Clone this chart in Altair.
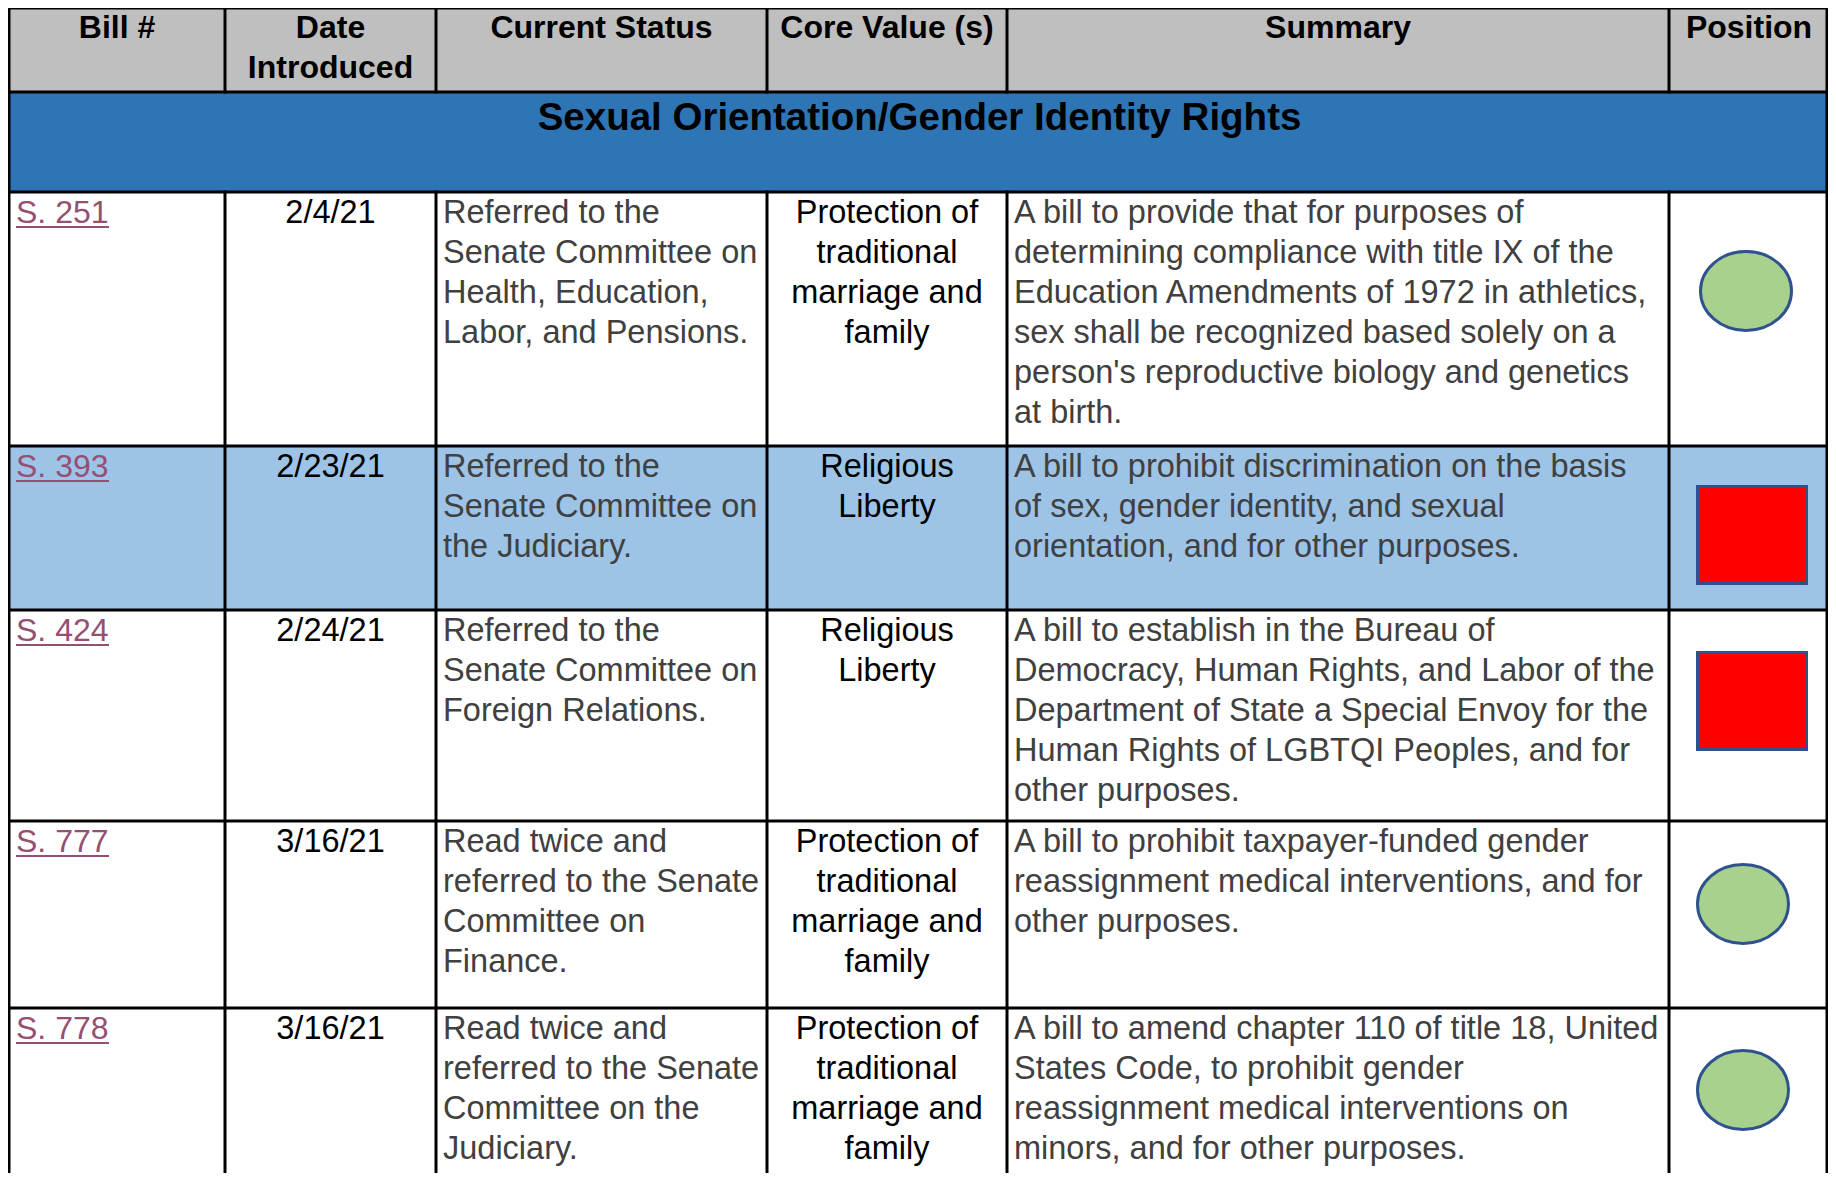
import altair as alt
import pandas as pd

# ---------------- data ----------------
headers = [["Bill #"], ["Date", "Introduced"], ["Current Status"], ["Core Value (s)"], ["Summary"], ["Position"]]
section_title = "Sexual Orientation/Gender Identity Rights"

bills = ["S. 251", "S. 393", "S. 424", "S. 777", "S. 778"]
dates = ["2/4/21", "2/23/21", "2/24/21", "3/16/21", "3/16/21"]
status = [
    ["Referred to the", "Senate Committee on", "Health, Education,", "Labor, and Pensions."],
    ["Referred to the", "Senate Committee on", "the Judiciary."],
    ["Referred to the", "Senate Committee on", "Foreign Relations."],
    ["Read twice and", "referred to the Senate", "Committee on", "Finance."],
    ["Read twice and", "referred to the Senate", "Committee on the", "Judiciary."],
]
core_values = [
    ["Protection of", "traditional", "marriage and", "family"],
    ["Religious", "Liberty"],
    ["Religious", "Liberty"],
    ["Protection of", "traditional", "marriage and", "family"],
    ["Protection of", "traditional", "marriage and", "family"],
]
summaries = [
    ["A bill to provide that for purposes of", "determining compliance with title IX of the",
     "Education Amendments of 1972 in athletics,", "sex shall be recognized based solely on a",
     "person's reproductive biology and genetics", "at birth."],
    ["A bill to prohibit discrimination on the basis", "of sex, gender identity, and sexual",
     "orientation, and for other purposes."],
    ["A bill to establish in the Bureau of", "Democracy, Human Rights, and Labor of the",
     "Department of State a Special Envoy for the", "Human Rights of LGBTQI Peoples, and for",
     "other purposes."],
    ["A bill to prohibit taxpayer-funded gender", "reassignment medical interventions, and for",
     "other purposes."],
    ["A bill to amend chapter 110 of title 18, United", "States Code, to prohibit gender",
     "reassignment medical interventions on", "minors, and for other purposes."],
]
positions = ["Support", "Oppose", "Oppose", "Support", "Support"]

# ---------------- layout (screen space) ----------------
W, H = 1820, 1165
X0, Y0 = 8, 7
COLS = [9, 225, 436, 767, 1007, 1669, 1827]
RIGHT_FILL = 1828
TOP, HEAD_BOT, BAND_BOT = 7, 91, 191
ROW_TOPS = [191, 445, 609, 820, 1007]
BOTTOM = Y0 + H
LINE_H = 40
FIRST_BASE = 31
PAD_L = 7
SHAPE_CX = [1746, 1752, 1752, 1743, 1743]   # shape centres in the Position cell
SHAPE_DY = [99, 89, 91, 83, 82]             # shape centre below row top
HIGHLIGHT_ROWS = [1]

FONT = "Liberation Sans"
FS = 32.5
FS_HEAD = 32
FS_TITLE = 38.5

xs = alt.Scale(domain=[X0, X0 + W], nice=False, zero=False)
ys = alt.Scale(domain=[Y0, Y0 + H], nice=False, zero=False, reverse=True)

def X(f="x"):
    return alt.X(f"{f}:Q", scale=xs, axis=None)

def Y(f="y"):
    return alt.Y(f"{f}:Q", scale=ys, axis=None)

# backgrounds
bg = [dict(x=COLS[0], x2=RIGHT_FILL, y=TOP, y2=HEAD_BOT, c="#BFBFBF"),
      dict(x=COLS[0], x2=RIGHT_FILL, y=HEAD_BOT, y2=BAND_BOT, c="#2E75B6")]
row_bots = ROW_TOPS[1:] + [BOTTOM]
for r in HIGHLIGHT_ROWS:
    bg.append(dict(x=COLS[0], x2=RIGHT_FILL, y=ROW_TOPS[r], y2=row_bots[r], c="#9DC3E6"))
rects = alt.Chart(pd.DataFrame(bg)).mark_rect().encode(
    x=X(), x2="x2:Q", y=Y(), y2="y2:Q", color=alt.Color("c:N", scale=None))

# grid lines
lines = []
for cx in [COLS[0], COLS[-1]]:
    lines.append(dict(x=cx, x2=cx, y=TOP, y2=BOTTOM))
for cx in COLS[1:-1]:
    lines.append(dict(x=cx, x2=cx, y=TOP, y2=HEAD_BOT))
    lines.append(dict(x=cx, x2=cx, y=BAND_BOT, y2=BOTTOM))
for hy in [TOP, HEAD_BOT, BAND_BOT] + ROW_TOPS[1:]:
    lines.append(dict(x=COLS[0], x2=RIGHT_FILL, y=hy, y2=hy))
rules = alt.Chart(pd.DataFrame(lines)).mark_rule(
    color="black", strokeWidth=3, strokeCap="square").encode(
    x=X(), x2="x2:Q", y=Y(), y2="y2:Q")

# header text
hdr = []
for i, lab in enumerate(headers):
    cx = (COLS[i] + COLS[i + 1]) / 2
    if i == len(headers) - 1:
        cx = 1749
    for j, t in enumerate(lab):
        hdr.append(dict(x=cx, y=TOP + 30 + LINE_H * j, t=t))
hdr_text = alt.Chart(pd.DataFrame(hdr)).mark_text(
    font=FONT, fontSize=FS_HEAD, fontWeight="bold", align="center", baseline="alphabetic",
    color="black").encode(x=X(), y=Y(), text="t:N")

title = alt.Chart(pd.DataFrame([dict(x=919.5, y=129, t=section_title)])).mark_text(
    font=FONT, fontSize=FS_TITLE, fontWeight="bold", align="center", baseline="alphabetic",
    color="black").encode(x=X(), y=Y(), text="t:N")

# body text
left_rows, center_rows, link_rows, ul_rows, shapes = [], [], [], [], []
for r in range(len(bills)):
    top = ROW_TOPS[r]
    base = top + FIRST_BASE
    link_rows.append(dict(x=COLS[0] + PAD_L, y=base, t=bills[r]))
    ul_rows.append(dict(x=COLS[0] + PAD_L, x2=COLS[0] + PAD_L + 93, y=base + 4, y2=base + 4))
    center_rows.append(dict(x=(COLS[1] + COLS[2]) / 2, y=base, t=dates[r], c="#000000"))
    for j, t in enumerate(status[r]):
        left_rows.append(dict(x=COLS[2] + PAD_L, y=base + LINE_H * j, t=t, c="#404040"))
    for j, t in enumerate(core_values[r]):
        center_rows.append(dict(x=(COLS[3] + COLS[4]) / 2, y=base + LINE_H * j, t=t, c="#000000"))
    for j, t in enumerate(summaries[r]):
        left_rows.append(dict(x=COLS[4] + PAD_L, y=base + LINE_H * j, t=t, c="#404040"))
    shapes.append(dict(x=SHAPE_CX[r], y=top + SHAPE_DY[r], p=positions[r]))

left_text = alt.Chart(pd.DataFrame(left_rows)).mark_text(
    font=FONT, fontSize=FS, align="left", baseline="alphabetic").encode(
    x=X(), y=Y(), text="t:N", color=alt.Color("c:N", scale=None))
center_text = alt.Chart(pd.DataFrame(center_rows)).mark_text(
    font=FONT, fontSize=FS, align="center", baseline="alphabetic").encode(
    x=X(), y=Y(), text="t:N", color=alt.Color("c:N", scale=None))
link_text = alt.Chart(pd.DataFrame(link_rows)).mark_text(
    font=FONT, fontSize=32, align="left", baseline="alphabetic", color="#954F72").encode(
    x=X(), y=Y(), text="t:N")
underline = alt.Chart(pd.DataFrame(ul_rows)).mark_rule(color="#954F72", strokeWidth=2).encode(
    x=X(), x2="x2:Q", y=Y(), y2="y2:Q")

shape_df = pd.DataFrame(shapes)
ELLIPSE = "M -1 0 A 1 0.868 0 1 1 1 0 A 1 0.868 0 1 1 -1 0 Z"
RECT = "M -1 -0.89 L 1 -0.89 L 1 0.89 L -1 0.89 Z"
support = alt.Chart(shape_df).transform_filter(alt.datum.p == "Support").mark_point(
    shape=ELLIPSE, size=91 * 91, filled=True, fill="#A9D18E", stroke="#2F528F",
    strokeWidth=3, opacity=1).encode(x=X(), y=Y())
oppose = alt.Chart(shape_df).transform_filter(alt.datum.p == "Oppose").mark_point(
    shape=RECT, size=109 * 109, filled=True, fill="#FF0000", stroke="#2F528F",
    strokeWidth=3, opacity=1).encode(x=X(), y=Y())

chart = alt.layer(
    rects, rules, hdr_text, title, left_text, center_text, link_text, underline, support, oppose
).properties(
    width=W, height=H, padding=0, autosize=alt.AutoSizeParams(type="none")
).configure_view(stroke=None)

chart.save("out.html", embed_options={"renderer": "svg", "actions": False})
